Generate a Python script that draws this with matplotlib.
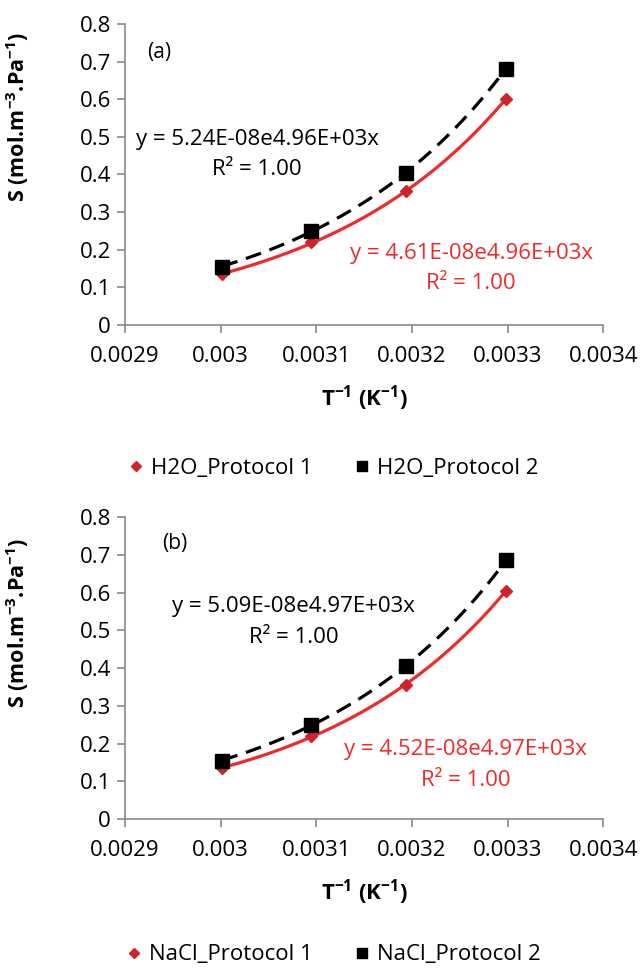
import numpy as np
import matplotlib.pyplot as plt

plt.rcParams['font.family'] = ['Open Sans', 'DejaVu Sans']
plt.rcParams['mathtext.fontset'] = 'custom'
plt.rcParams['mathtext.rm'] = 'Open Sans'
plt.rcParams['mathtext.bf'] = 'Open Sans:bold'

# inverse temperature (1/K)
inv_t = [1 / 333.15, 1 / 323.15, 1 / 313.15, 1 / 303.15]

h2o_p1 = [0.135, 0.220, 0.355, 0.600]
h2o_p2 = [0.155, 0.250, 0.405, 0.680]
nacl_p1 = [0.135, 0.220, 0.355, 0.605]
nacl_p2 = [0.155, 0.250, 0.405, 0.685]

xticks = [0.0029, 0.003, 0.0031, 0.0032, 0.0033, 0.0034]
xticklabels = ['0.0029', '0.003', '0.0031', '0.0032', '0.0033', '0.0034']
yticks = [0, 0.1, 0.2, 0.3, 0.4, 0.5, 0.6, 0.7, 0.8]
yticklabels = ['0', '0.1', '0.2', '0.3', '0.4', '0.5', '0.6', '0.7', '0.8']

RED = '#f02a2a'
RED_MK = '#d0222a'
GRAY = '#8a8a8a'


def expfit(x, y):
    b, lna = np.polyfit(x, np.log(y), 1)
    xx = np.linspace(min(x), max(x), 100)
    return xx, np.exp(lna) * np.exp(b * xx)


def panel(ax, p1, p2, lab1, lab2, tag, tag_pos, eq_black, eq_red, pos_black, pos_red,
          ylab_y, leg_y):
    x1, f1 = expfit(inv_t, p1)
    x2, f2 = expfit(inv_t, p2)
    ax.plot(x1, f1, color=RED, lw=2.3, zorder=2)
    ax.plot(x2, f2, color='black', lw=2.3, ls=(0, (5, 2.8)), zorder=2)
    m1, = ax.plot(inv_t, p1, 'D', color=RED_MK, ms=6.5, ls='none', zorder=3, label=lab1)
    m2, = ax.plot(inv_t, p2, 's', color='black', ms=9.5, ls='none', zorder=3, label=lab2)

    ax.set_xlim(0.0029, 0.0034)
    ax.set_ylim(0, 0.8)
    ax.set_xticks(xticks)
    ax.set_xticklabels(xticklabels)
    ax.set_yticks(yticks)
    ax.set_yticklabels(yticklabels)
    ax.tick_params(labelsize=16, color=GRAY, length=6, width=1.2)
    ax.tick_params(axis='x', pad=9)
    ax.tick_params(axis='y', pad=4)
    for s in ['top', 'right']:
        ax.spines[s].set_visible(False)
    for s in ['left', 'bottom']:
        ax.spines[s].set_color(GRAY)
        ax.spines[s].set_linewidth(1.2)

    ax.set_xlabel('T$^{\\mathbf{-1}}$ (K$^{\\mathbf{-1}}$)', fontsize=16,
                  fontweight='bold', labelpad=12)
    ax.set_ylabel('S (mol.m$^{\\mathbf{-3}}$.Pa$^{\\mathbf{-1}}$)', fontsize=15.5,
                  fontweight='bold')
    ax.yaxis.set_label_coords(-0.197, ylab_y)

    ax.text(tag_pos[0], tag_pos[1], tag, fontsize=15, ha='left', va='center')
    ax.text(pos_black[0], pos_black[1], eq_black, fontsize=16, ha='center', va='center')
    ax.text(pos_black[0], pos_black[1] - 0.08, 'R² = 1.00', fontsize=16,
            ha='center', va='center')
    ax.text(pos_red[0], pos_red[1], eq_red, fontsize=16, ha='center', va='center',
            color=RED)
    ax.text(pos_red[0], pos_red[1] - 0.08, 'R² = 1.00', fontsize=16, ha='center',
            va='center', color=RED)

    fig.legend(handles=[m1, m2], loc='center', bbox_to_anchor=(0.515, leg_y), ncol=2,
               frameon=False, fontsize=16, handletextpad=0.0, columnspacing=1.6,
               handlelength=1.3, markerscale=0.75)


fig = plt.figure(figsize=(6.41, 9.71), dpi=100)
ax1 = fig.add_axes([0.195, 0.6653, 0.746, 0.31])
ax2 = fig.add_axes([0.195, 0.1565, 0.746, 0.311])

panel(ax1, h2o_p1, h2o_p2, 'H2O_Protocol 1', 'H2O_Protocol 2', '(a)', (0.002923, 0.725),
      'y = 5.24E-08e4.96E+03x', 'y = 4.61E-08e4.96E+03x',
      (0.003038, 0.492), (0.003262, 0.191), 0.69, 0.518)
panel(ax2, nacl_p1, nacl_p2, 'NaCl_Protocol 1', 'NaCl_Protocol 2', '(b)', (0.002939, 0.73),
      'y = 5.09E-08e4.97E+03x', 'y = 4.52E-08e4.97E+03x',
      (0.003076, 0.562), (0.003256, 0.183), 0.65, 0.0165)

fig.savefig('out.png', dpi=100)
